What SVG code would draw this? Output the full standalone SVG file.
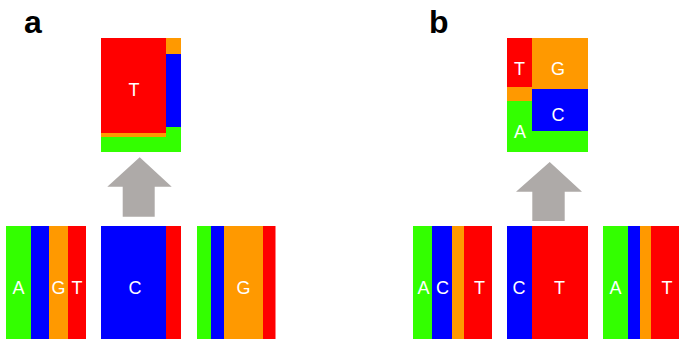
<svg xmlns="http://www.w3.org/2000/svg" width="679" height="343" viewBox="0 0 679 343">
<style>
.g{fill:#33ff00}.b{fill:#0000ff}.o{fill:#ff9900}.r{fill:#ff0000}
.t{font-family:"Liberation Sans",Arial,sans-serif;font-size:18px;fill:#ffffff;text-anchor:middle}
.h{font-family:"Liberation Sans",Arial,sans-serif;font-size:32px;font-weight:bold;fill:#000000}
.ar{fill:#aeaaa8}
</style>
<rect width="679" height="343" fill="#ffffff"/>
<text class="h" x="24" y="33">a</text>
<text class="h" x="429" y="33">b</text>
<g id="a-top">
<rect class="g" x="101" y="127" width="80" height="25"/>
<rect class="o" x="101" y="38" width="65" height="99"/>
<rect class="r" x="101" y="38" width="65" height="95"/>
<rect class="o" x="166" y="38" width="15" height="16"/>
<rect class="b" x="166" y="54" width="15" height="73"/>
<text class="t" x="134" y="95.5">T</text>
</g>
<g id="b-top">
<rect class="g" x="507" y="38" width="81" height="114"/>
<rect class="o" x="507" y="38" width="81" height="63"/>
<rect class="r" x="507" y="38" width="25" height="49"/>
<rect class="o" x="532" y="38" width="56" height="51"/>
<rect class="b" x="532" y="89" width="56" height="42"/>
<text class="t" x="519.5" y="74.5">T</text>
<text class="t" x="558" y="74.5">G</text>
<text class="t" x="558" y="120.5">C</text>
<text class="t" x="520" y="138">A</text>
</g>
<g id="a1">
<rect class="g" x="6" y="226" width="25" height="113"/>
<rect class="b" x="31" y="226" width="18" height="113"/>
<rect class="o" x="49" y="226" width="19" height="113"/>
<rect class="r" x="68" y="226" width="18" height="113"/>
<text class="t" x="18.5" y="293.5">A</text>
<text class="t" x="58.5" y="293.5">G</text>
<text class="t" x="77" y="293.5">T</text>
</g>
<g id="a2">
<rect class="b" x="101" y="226" width="65" height="113"/>
<rect class="r" x="166" y="226" width="15" height="113"/>
<text class="t" x="135" y="293.5">C</text>
</g>
<g id="a3">
<rect class="g" x="197" y="226" width="14" height="113"/>
<rect class="b" x="211" y="226" width="13" height="113"/>
<rect class="o" x="224" y="226" width="39" height="113"/>
<rect class="r" x="263" y="226" width="12.5" height="113"/>
<text class="t" x="243.5" y="293.5">G</text>
</g>
<g id="b1">
<rect class="g" x="413" y="226" width="19" height="113"/>
<rect class="b" x="432" y="226" width="20" height="113"/>
<rect class="o" x="452" y="226" width="12" height="113"/>
<rect class="r" x="464" y="226" width="28" height="113"/>
<text class="t" x="423.5" y="293.5">A</text>
<text class="t" x="442.5" y="293.5">C</text>
<text class="t" x="479.5" y="293.5">T</text>
</g>
<g id="b2">
<rect class="b" x="507" y="226" width="25" height="113"/>
<rect class="r" x="532" y="226" width="56" height="113"/>
<text class="t" x="519" y="293.5">C</text>
<text class="t" x="559.5" y="293.5">T</text>
</g>
<g id="b3">
<rect class="g" x="603" y="226" width="25" height="113"/>
<rect class="b" x="628" y="226" width="12" height="113"/>
<rect class="o" x="640" y="226" width="11" height="113"/>
<rect class="r" x="651" y="226" width="28" height="113"/>
<text class="t" x="615.5" y="293.5">A</text>
<text class="t" x="667" y="293.5">T</text>
</g>
<g id="connectors">
<polygon class="ar" points="139.7,157.3 171.7,186.7 154.7,186.7 154.7,216.7 122.7,216.7 122.7,186.7 107.3,186.7"/>
<polygon class="ar" points="549.7,162 582,191.7 564.7,191.7 564.7,221 532.3,221 532.3,191.7 516,191.7"/>
</g>
</svg>
